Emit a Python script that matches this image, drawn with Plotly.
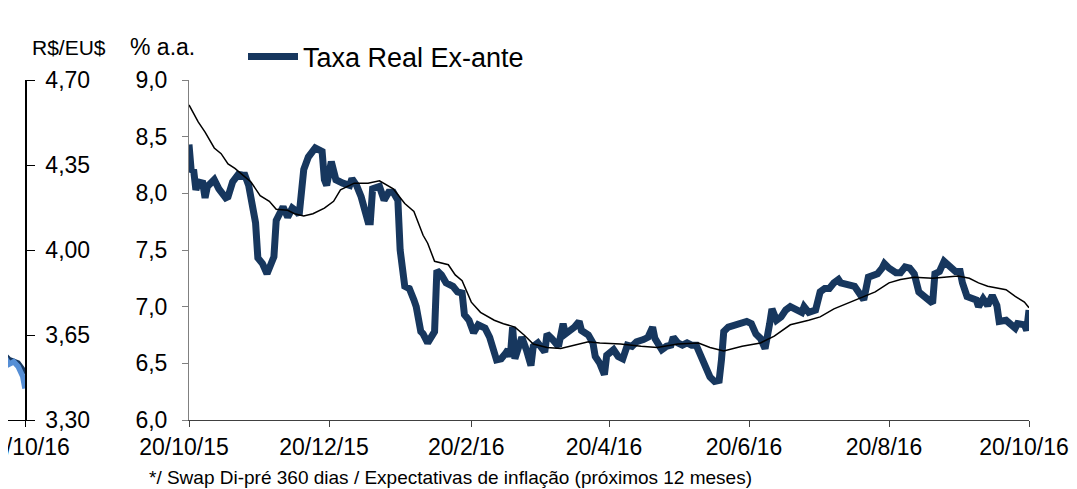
import plotly.graph_objects as go

# Taxa real ex-ante (% a.a.) - daily-ish readings
real_dates = [
    "2015-10-20", "2015-10-21", "2015-10-22", "2015-10-23", "2015-10-24", "2015-10-26",
    "2015-10-27", "2015-10-28", "2015-10-31", "2015-11-02", "2015-11-05", "2015-11-06",
    "2015-11-08", "2015-11-11", "2015-11-12", "2015-11-13", "2015-11-15", "2015-11-16",
    "2015-11-18", "2015-11-19", "2015-11-21", "2015-11-23", "2015-11-26", "2015-11-27",
    "2015-11-29", "2015-11-30", "2015-12-02", "2015-12-04", "2015-12-06", "2015-12-07",
    "2015-12-09", "2015-12-11", "2015-12-14", "2015-12-17", "2015-12-18", "2015-12-19",
    "2015-12-21", "2015-12-23", "2015-12-26", "2015-12-29", "2015-12-30", "2016-01-01",
    "2016-01-03", "2016-01-06", "2016-01-07", "2016-01-08", "2016-01-11", "2016-01-13",
    "2016-01-15", "2016-01-17", "2016-01-19", "2016-01-20", "2016-01-22", "2016-01-24",
    "2016-01-26", "2016-01-27", "2016-01-29", "2016-01-30", "2016-02-01", "2016-02-04",
    "2016-02-05", "2016-02-07", "2016-02-09", "2016-02-12", "2016-02-14", "2016-02-16",
    "2016-02-17", "2016-02-19", "2016-02-21", "2016-02-23", "2016-02-26", "2016-02-28",
    "2016-03-02", "2016-03-04", "2016-03-06", "2016-03-07", "2016-03-08", "2016-03-09",
    "2016-03-10", "2016-03-12", "2016-03-13", "2016-03-15", "2016-03-17", "2016-03-18",
    "2016-03-20", "2016-03-23", "2016-03-24", "2016-03-26", "2016-03-29", "2016-03-31",
    "2016-04-01", "2016-04-03", "2016-04-05", "2016-04-07", "2016-04-08", "2016-04-11",
    "2016-04-13", "2016-04-14", "2016-04-16", "2016-04-18", "2016-04-19", "2016-04-22",
    "2016-04-24", "2016-04-26", "2016-04-28", "2016-04-30", "2016-05-02", "2016-05-05",
    "2016-05-07", "2016-05-09", "2016-05-10", "2016-05-13", "2016-05-15", "2016-05-17",
    "2016-05-18", "2016-05-20", "2016-05-22", "2016-05-24", "2016-05-26", "2016-05-28",
    "2016-05-30", "2016-06-01", "2016-06-03", "2016-06-05", "2016-06-07", "2016-06-08",
    "2016-06-09", "2016-06-11", "2016-06-14", "2016-06-17", "2016-06-19", "2016-06-21",
    "2016-06-23", "2016-06-25", "2016-06-27", "2016-06-29", "2016-06-30", "2016-07-02",
    "2016-07-04", "2016-07-06", "2016-07-08", "2016-07-11", "2016-07-13", "2016-07-14",
    "2016-07-16", "2016-07-19", "2016-07-21", "2016-07-23", "2016-07-25", "2016-07-27",
    "2016-07-29", "2016-07-30", "2016-08-02", "2016-08-05", "2016-08-07", "2016-08-09",
    "2016-08-11", "2016-08-13", "2016-08-15", "2016-08-17", "2016-08-18", "2016-08-20",
    "2016-08-23", "2016-08-25", "2016-08-27", "2016-08-29", "2016-08-31", "2016-09-02",
    "2016-09-04", "2016-09-06", "2016-09-08", "2016-09-09", "2016-09-11", "2016-09-13",
    "2016-09-16", "2016-09-18", "2016-09-20", "2016-09-21", "2016-09-23", "2016-09-25",
    "2016-09-27", "2016-09-28", "2016-09-30", "2016-10-02", "2016-10-04", "2016-10-06",
    "2016-10-07", "2016-10-10", "2016-10-12", "2016-10-14", "2016-10-15", "2016-10-18",
    "2016-10-19", "2016-10-20",
]
real_rate = [
    8.43, 8.19, 8.21, 8.03, 8.10, 8.09,
    7.96, 8.06, 8.12, 8.04, 7.96, 7.97,
    8.10, 8.18, 8.13, 8.18, 8.07, 7.97,
    7.74, 7.43, 7.38, 7.29, 7.44, 7.76,
    7.85, 7.88, 7.79, 7.87, 7.84, 7.81,
    8.21, 8.32, 8.40, 8.37, 8.12, 8.07,
    8.28, 8.12, 8.09, 8.07, 8.13, 8.07,
    7.97, 7.75, 7.75, 8.04, 8.06, 7.94,
    8.01, 8.01, 7.94, 7.50, 7.18, 7.16,
    7.06, 7.00, 6.78, 6.76, 6.68, 6.78,
    7.32, 7.28, 7.21, 7.18, 7.13, 7.12,
    6.93, 6.88, 6.77, 6.84, 6.81, 6.73,
    6.53, 6.54, 6.59, 6.62, 6.56, 6.82,
    6.54, 6.65, 6.73, 6.62, 6.48, 6.65,
    6.68, 6.60, 6.76, 6.72, 6.65, 6.85,
    6.76, 6.79, 6.82, 6.87, 6.79, 6.75,
    6.68, 6.56, 6.50, 6.40, 6.57, 6.62,
    6.56, 6.54, 6.66, 6.65, 6.69, 6.71,
    6.73, 6.82, 6.72, 6.62, 6.65, 6.66,
    6.73, 6.68, 6.66, 6.68, 6.66, 6.66,
    6.56, 6.48, 6.38, 6.34, 6.35, 6.53,
    6.78, 6.82, 6.84, 6.86, 6.87, 6.85,
    6.76, 6.72, 6.63, 6.85, 6.98, 6.88,
    6.91, 6.97, 7.00, 6.97, 6.95, 7.00,
    6.95, 6.97, 7.13, 7.16, 7.16, 7.21,
    7.24, 7.21, 7.19, 7.18, 7.12, 7.06,
    7.26, 7.28, 7.29, 7.34, 7.38, 7.34,
    7.30, 7.30, 7.35, 7.34, 7.29, 7.13,
    7.10, 7.07, 7.03, 7.29, 7.31, 7.40,
    7.34, 7.31, 7.31, 7.21, 7.09, 7.07,
    7.06, 7.00, 7.07, 7.01, 7.10, 7.01,
    6.87, 6.88, 6.84, 6.81, 6.85, 6.84,
    6.79, 6.97,
]

# thin black line (moving average)
avg_dates = [
    "2015-10-20", "2015-10-24", "2015-10-27", "2015-10-31", "2015-11-03", "2015-11-06",
    "2015-11-09", "2015-11-13", "2015-11-16", "2015-11-20", "2015-11-24", "2015-11-27",
    "2015-12-02", "2015-12-05", "2015-12-09", "2015-12-13", "2015-12-18", "2015-12-22",
    "2015-12-25", "2015-12-31", "2016-01-06", "2016-01-11", "2016-01-17", "2016-01-22",
    "2016-01-26", "2016-01-30", "2016-02-01", "2016-02-04", "2016-02-10", "2016-02-13",
    "2016-02-16", "2016-02-20", "2016-02-24", "2016-03-01", "2016-03-05", "2016-03-10",
    "2016-03-14", "2016-03-18", "2016-03-24", "2016-03-30", "2016-04-05", "2016-04-11",
    "2016-04-16", "2016-04-25", "2016-05-04", "2016-05-11", "2016-05-20", "2016-05-29",
    "2016-06-03", "2016-06-09", "2016-06-17", "2016-06-25", "2016-07-01", "2016-07-08",
    "2016-07-16", "2016-07-21", "2016-07-27", "2016-08-02", "2016-08-08", "2016-08-14",
    "2016-08-20", "2016-08-25", "2016-08-31", "2016-09-08", "2016-09-13", "2016-09-19",
    "2016-09-24", "2016-09-28", "2016-10-02", "2016-10-10", "2016-10-14", "2016-10-18",
    "2016-10-20",
]
avg_rate = [
    8.78, 8.63, 8.54, 8.40, 8.35, 8.26,
    8.22, 8.15, 8.10, 7.98, 7.93, 7.86,
    7.85, 7.82, 7.80, 7.82, 7.87, 7.93,
    8.03, 8.09, 8.09, 8.11, 8.04, 7.91,
    7.84, 7.63, 7.56, 7.40, 7.37, 7.28,
    7.23, 7.04, 6.95, 6.88, 6.85, 6.82,
    6.75, 6.67, 6.64, 6.63, 6.66, 6.69,
    6.68, 6.67, 6.65, 6.64, 6.67, 6.68,
    6.64, 6.61, 6.65, 6.68, 6.74, 6.84,
    6.88, 6.91, 6.98, 7.03, 7.08, 7.13,
    7.21, 7.24, 7.26, 7.25, 7.26, 7.27,
    7.25, 7.21, 7.18, 7.15, 7.09, 7.04,
    6.99,
]

# tail of the neighbouring chart (R$/EU$)
fx_dates = ["2016-10-06", "2016-10-09", "2016-10-11", "2016-10-13", "2016-10-15",
            "2016-10-17", "2016-10-19", "2016-10-20"]
fx_light = [3.64, 3.60, 3.56, 3.53, 3.54, 3.52, 3.48, 3.43]
fx_dark = [3.65, 3.61, 3.57, 3.55, 3.54, 3.535, 3.51, 3.49]

NAVY = "#17375E"
LIGHT = "#558ED5"
FONT = "Liberation Sans, Arial, sans-serif"

# the page puts the figure 8px in from the top-left corner
W, H = 1069, 481
top, bottom = 72, 412

fig = go.Figure()

fig.add_trace(go.Scatter(x=fx_dates, y=fx_dark, mode="lines", xaxis="x2", yaxis="y2",
                         line=dict(color=NAVY, width=5), showlegend=False))
fig.add_trace(go.Scatter(x=fx_dates, y=fx_light, mode="lines", xaxis="x2", yaxis="y2",
                         line=dict(color=LIGHT, width=5.5), showlegend=False))

fig.add_trace(go.Scatter(x=real_dates, y=real_rate, mode="lines", name="Taxa Real Ex-ante",
                         line=dict(color=NAVY, width=7)))
fig.add_trace(go.Scatter(x=avg_dates, y=avg_rate, mode="lines", showlegend=False,
                         line=dict(color="black", width=1.5)))

ydom = [1 - bottom / H, 1 - top / H]

fig.update_layout(
    width=W, height=H,
    margin=dict(l=0, r=0, t=0, b=0, autoexpand=False),
    paper_bgcolor="white", plot_bgcolor="white",
    separators=",.",
    font=dict(family=FONT, size=23, color="black"),
    xaxis=dict(
        domain=[181 / W, 1021 / W], anchor="y", automargin=False,
        type="date", range=["2015-10-20", "2016-10-20"],
        tick0="2015-10-20", dtick="M2", tickformat="%-d/%-m/%y",
        ticklabeloverflow="allow", ticklabelshift=-5,
        showgrid=False, showline=True, linecolor="#404040", linewidth=1,
        ticks="outside", ticklen=6, tickcolor="#404040",
        zeroline=False,
    ),
    yaxis=dict(
        domain=ydom, anchor="x", automargin=False,
        range=[6.0, 9.0], dtick=0.5, tickformat=".1f",
        showgrid=False, showline=True, linecolor="#808080", linewidth=1,
        ticks="outside", ticklen=6, tickcolor="#808080",
        ticklabelstandoff=10, zeroline=False,
    ),
    xaxis2=dict(
        domain=[0, 17 / W], anchor="y2", automargin=False,
        type="date", range=["2016-10-12 12:00", "2016-10-20"],
        tickvals=["2016-10-20"], tickformat="%-d/%-m/%y",
        ticklabeloverflow="allow",
        showgrid=False, showline=True, linecolor="black", linewidth=1,
        ticks="outside", ticklen=6, tickcolor="black", zeroline=False,
    ),
    yaxis2=dict(
        domain=ydom, anchor="x2", side="right", automargin=False,
        range=[3.30, 4.70], dtick=0.35, tick0=3.30, tickformat=".2f",
        showgrid=False, showline=True, linecolor="black", linewidth=1.5,
        ticks="outside", ticklen=8, tickcolor="black",
        ticklabelstandoff=6, zeroline=False,
    ),
    legend=dict(
        orientation="h", x=235 / W, xanchor="left", y=1 - 49 / H, yanchor="middle",
        font=dict(family=FONT, size=27), bgcolor="rgba(0,0,0,0)", itemwidth=50,
    ),
    annotations=[
        dict(text="R$/EU$", x=22 / W, y=1 - 39 / H, xref="paper", yref="paper",
             xanchor="left", yanchor="middle", showarrow=False, font=dict(size=21)),
        dict(text="% a.a.", x=120 / W, y=1 - 39 / H, xref="paper", yref="paper",
             xanchor="left", yanchor="middle", showarrow=False, font=dict(size=23)),
        dict(text="*/ Swap Di-pré 360 dias / Expectativas de inflação (próximos 12 meses)",
             x=139 / W, y=1 - 469 / H, xref="paper", yref="paper",
             xanchor="left", yanchor="middle", showarrow=False, font=dict(size=19)),
    ],
)

fig.write_html("out.html")
